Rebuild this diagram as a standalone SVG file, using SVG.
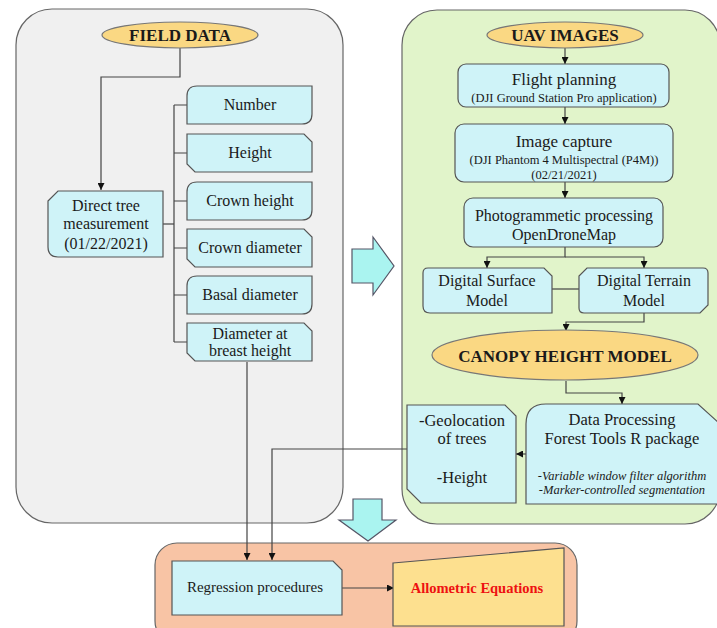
<svg xmlns="http://www.w3.org/2000/svg" width="717" height="628" viewBox="0 0 717 628">
<style>
text{font-family:'Liberation Serif','Times New Roman','DejaVu Serif',serif}
.t{fill:#1a1a1a;text-anchor:middle}
.b{font-weight:bold}
.box{fill:#cff3f8;stroke:#555;stroke-width:1.2}
.ell{fill:#fad883;stroke:#777;stroke-width:1.2}
.ln{fill:none;stroke:#444;stroke-width:1.2}
.big{fill:#aaf4f0;stroke:#556;stroke-width:1.2}
</style>
<defs>
<marker id="ah" viewBox="0 0 10 10" refX="10" refY="5" markerWidth="7" markerHeight="7" orient="auto" markerUnits="userSpaceOnUse">
<path d="M0,0 L10,5 L0,10 Z" fill="#111"/>
</marker>
</defs>
<rect width="717" height="628" fill="#fff"/>
<g id="panel-field"><rect x="16" y="9" width="327" height="514" rx="36" fill="#f0f0f0" stroke="#666" stroke-width="1.2"/></g>
<g id="panel-uav"><rect x="402" y="10" width="318" height="514" rx="35" fill="#e1f4ca" stroke="#666" stroke-width="1.2"/></g>
<g id="panel-result"><rect x="155" y="543" width="422" height="100" rx="22" fill="#f8c4a5" stroke="#666" stroke-width="1.2"/></g>
<g id="arrow-right"><path class="big" d="M352,249 H373 V237 L394,266 L373,295 V283 H352 Z"/></g>
<g id="arrow-down"><path class="big" d="M353,499 H382 V520 H396 L368,541 L339,520 H353 Z"/></g>

<g id="connectors">
<path class="ln" d="M180,48 V77 H101 V190" marker-end="url(#ah)"/>
<path class="ln" d="M163,224 H174" stroke-width="2"/>
<path class="ln" d="M174,105 V342"/>
<path class="ln" d="M174,105 H187 M174,153 H187 M174,201 H187 M174,248 H187 M174,295 H187 M174,342 H187"/>
<path class="ln" d="M247,362 V560" marker-end="url(#ah)"/>
<path class="ln" d="M407,449 H272 V560" marker-end="url(#ah)"/>
<path class="ln" d="M565,48 V64" marker-end="url(#ah)"/>
<path class="ln" d="M565,107 V124" marker-end="url(#ah)"/>
<path class="ln" d="M565,182 V198" marker-end="url(#ah)"/>
<path class="ln" d="M565,247 V257 H487 V268" marker-end="url(#ah)"/>
<path class="ln" d="M565,257 H644 V268" marker-end="url(#ah)"/>
<path class="ln" d="M552,289 H579" stroke-width="2"/>
<path class="ln" d="M644,313 V322 H566 V331" marker-end="url(#ah)"/>
<path class="ln" d="M566,381 V393 H622 V404" marker-end="url(#ah)"/>
<path class="ln" d="M526,454 H516" marker-end="url(#ah)"/>
<path class="ln" d="M342,588 H394" marker-end="url(#ah)"/>
</g>

<g id="field-data"><ellipse class="ell" cx="180" cy="35" rx="78" ry="13"/><text class="t b" x="180" y="41" font-size="17">FIELD DATA</text></g>
<g id="direct-tree"><path class="box" d="M48,201 L58,191 H163 V257 H58 Q48,257 48,247 Z"/>
<text class="t" x="106" y="211" font-size="16">Direct tree</text>
<text class="t" x="106" y="229" font-size="16">measurement</text>
<text class="t" x="106" y="249" font-size="16">(01/22/2021)</text></g>
<g id="number"><path class="box" d="M197,86 H312 V114 Q312,124 302,124 H187 V96 Q187,86 197,86 Z"/><text class="t" x="250" y="110" font-size="16">Number</text></g>
<g id="height"><path class="box" d="M187,134 H304 L312,142 V172 H195 L187,164 Z"/><text class="t" x="250" y="158" font-size="16">Height</text></g>
<g id="crown-height"><path class="box" d="M197,182 H312 V210 Q312,220 302,220 H187 V192 Q187,182 197,182 Z"/><text class="t" x="250" y="206" font-size="16">Crown height</text></g>
<g id="crown-diameter"><path class="box" d="M187,229 H304 L312,237 V267 H195 L187,259 Z"/><text class="t" x="250" y="253" font-size="16">Crown diameter</text></g>
<g id="basal-diameter"><path class="box" d="M197,276 H312 V304 Q312,314 302,314 H187 V286 Q187,276 197,276 Z"/><text class="t" x="250" y="300" font-size="16">Basal diameter</text></g>
<g id="dbh"><path class="box" d="M187,323 H304 L312,331 V361 H195 L187,353 Z"/>
<text class="t" x="250" y="339" font-size="16">Diameter at</text>
<text class="t" x="250" y="356" font-size="16">breast height</text></g>

<g id="uav-images"><ellipse class="ell" cx="565" cy="35" rx="78" ry="13"/><text class="t b" x="565" y="41" font-size="17">UAV IMAGES</text></g>
<g id="flight-planning"><rect class="box" x="458" y="64" width="211" height="43" rx="8"/>
<text class="t" x="564" y="85" font-size="17">Flight planning</text>
<text class="t" x="564" y="102" font-size="12.5">(DJI Ground Station Pro application)</text></g>
<g id="image-capture"><rect class="box" x="455" y="124" width="218" height="58" rx="9"/>
<text class="t" x="564" y="147" font-size="17">Image capture</text>
<text class="t" x="564" y="164" font-size="12.5">(DJI Phantom 4 Multispectral (P4M))</text>
<text class="t" x="564" y="179" font-size="12.5">(02/21/2021)</text></g>
<g id="photogrammetic"><rect class="box" x="464" y="198" width="199" height="49" rx="9"/>
<text class="t" x="564" y="221" font-size="16">Photogrammetic processing</text>
<text class="t" x="564" y="240" font-size="16">OpenDroneMap</text></g>
<g id="dsm"><path class="box" d="M428,268 H544 L552,276 V313 H430 Q423,313 423,306 V273 Q423,268 428,268 Z"/>
<text class="t" x="487" y="286" font-size="16">Digital Surface</text>
<text class="t" x="487" y="306" font-size="16">Model</text></g>
<g id="dtm"><path class="box" d="M587,268 H703 Q708,268 708,273 V305 L700,313 H584 Q579,313 579,308 V276 Z"/>
<text class="t" x="644" y="286" font-size="16">Digital Terrain</text>
<text class="t" x="644" y="306" font-size="16">Model</text></g>
<g id="chm"><ellipse class="ell" cx="565" cy="355" rx="133" ry="25"/><text class="t b" x="565" y="362" font-size="17">CANOPY HEIGHT  MODEL</text></g>
<g id="data-processing"><path class="box" d="M546,404 H698 L720,424 V504 H526 V424 Q526,404 546,404 Z"/>
<text class="t" x="622" y="425" font-size="16.5">Data Processing</text>
<text class="t" x="622" y="444" font-size="16.5">Forest Tools R package</text>
<text class="t" x="622" y="480" font-size="12.5" font-style="italic">-Variable window filter algorithm</text>
<text class="t" x="622" y="494" font-size="12.5" font-style="italic">-Marker-controlled segmentation</text></g>
<g id="geolocation"><path class="box" d="M407,405 H505 L516,416 V503 H421 L407,489 Z"/>
<text class="t" x="462" y="426" font-size="16.5">-Geolocation</text>
<text class="t" x="462" y="444" font-size="16.5">of trees</text>
<text class="t" x="462" y="483" font-size="16.5">-Height</text></g>

<g id="regression"><path class="box" d="M172,561 H333 L342,570 V615 H172 Z"/><text class="t" x="255" y="592" font-size="15">Regression procedures</text></g>
<g id="allometric"><path d="M393,563 L564,548 V626 H393 Z" fill="#fde08f" stroke="#555" stroke-width="1.2"/><text class="t b" x="477" y="593" font-size="14.5" style="fill:#ee1111">Allometric  Equations</text></g>
</svg>
